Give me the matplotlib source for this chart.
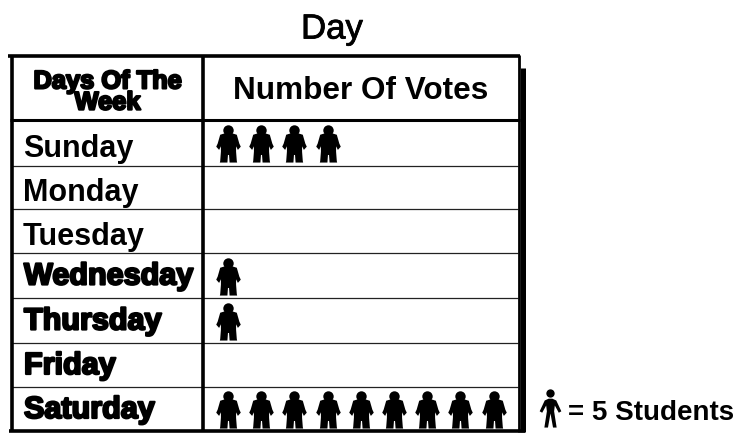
import matplotlib
matplotlib.use("Agg")
import matplotlib.pyplot as plt
import matplotlib.patheffects as pe
from matplotlib.path import Path

# pictograph table, drawn in pixel coords
days = ["Sunday", "Monday", "Tuesday", "Wednesday", "Thursday", "Friday", "Saturday"]
icons = [4, 0, 0, 1, 1, 0, 9]
heavy = [False, False, False, True, True, True, True]
title = "Day"
col1_head = "Days Of The\nWeek"
col2_head = "Number Of Votes"
key_text = "= 5 Students"

row_lines = [121, 167, 210, 254, 299, 344, 388, 432]

plt.rcParams["font.family"] = ["Liberation Sans", "DejaVu Sans"]

fig = plt.figure(figsize=(7.39, 4.35), dpi=100)
ax = fig.add_axes([0, 0, 1, 1])
ax.set_xlim(0, 739)
ax.set_ylim(435, 0)
ax.axis("off")

# stocky figure for the table
body = [(-0.12, 1), (-0.2, 0.86), (-0.14, 0.64), (-0.46, 0.54), (-0.6, 0.05), (-0.68, -0.12),
        (-0.52, -0.3), (-0.42, -0.1), (-0.42, -0.4), (-0.46, -0.92), (-0.48, -1),
        (-0.06, -1), (-0.03, -0.58), (0.03, -0.58), (0.06, -1), (0.48, -1), (0.46, -0.92),
        (0.42, -0.4), (0.42, -0.1), (0.52, -0.3), (0.68, -0.12), (0.6, 0.05),
        (0.46, 0.54), (0.14, 0.64), (0.2, 0.86), (0.12, 1), (-0.12, 1)]
person = Path(body, closed=True)

# slim figure for the key
slim_body = [(-0.1, 0.6), (-0.32, 0.5), (-0.6, -0.1), (-0.46, -0.18), (-0.24, 0.22), (-0.2, -0.1),
             (-0.34, -1), (-0.14, -1), (0, -0.22), (0.14, -1), (0.34, -1), (0.2, -0.1),
             (0.24, 0.22), (0.46, -0.18), (0.6, -0.1), (0.32, 0.5), (0.1, 0.6), (-0.1, 0.6)]
slim = Path(slim_body, closed=True)

# frame
ax.plot([8, 520], [57, 57], color="black", lw=2.6, solid_capstyle="butt")
ax.plot([10, 520], [121, 121], color="black", lw=2.2, solid_capstyle="butt")
for y in row_lines[1:-1]:
    ax.plot([12, 518], [y, y], color="#222222", lw=0.9, solid_capstyle="butt")
ax.plot([9, 525], [432, 432], color="black", lw=2.6, solid_capstyle="butt")
ax.plot([12, 12], [56, 433], color="black", lw=2.6, solid_capstyle="butt")
ax.plot([203, 203], [56, 433], color="black", lw=2.6, solid_capstyle="butt")
ax.plot([519, 519], [56, 433], color="black", lw=2, solid_capstyle="butt")
ax.plot([522.5, 522.5], [69, 433], color="black", lw=3.6, solid_capstyle="butt")

ax.text(332, 30, title, fontsize=25, ha="center", va="center", color="black",
        path_effects=[pe.withStroke(linewidth=0.6, foreground="black")])
ax.text(107.5, 93, col1_head, fontsize=18.3, fontweight="bold", ha="center", va="center",
        linespacing=0.85, color="black",
        path_effects=[pe.withStroke(linewidth=1.6, foreground="black")])
ax.text(361, 91, col2_head, fontsize=22.7, fontweight="bold", ha="center", va="center", color="black")

for i, day in enumerate(days):
    yc = (row_lines[i] + row_lines[i + 1]) / 2
    if heavy[i]:
        ax.text(24, yc + 1, day, fontsize=22, fontweight="bold", ha="left", va="center", color="black",
                path_effects=[pe.withStroke(linewidth=1.6, foreground="black")])
    else:
        ax.text(23, yc + 5, day, fontsize=22, fontweight="bold", ha="left", va="center", color="black")
    for k in range(icons[i]):
        x = 228 + k * 33.2
        ax.plot([x], [yc + 1], marker=person, ms=26, color="black", mew=0, ls="none")
        ax.plot([x], [yc - 13], marker="o", ms=7.5, color="black", mew=0, ls="none")

# key
ax.plot([550], [410], marker=slim, ms=26, color="black", mew=0, ls="none")
ax.plot([550], [394], marker="o", ms=6, color="black", mew=0, ls="none")
ax.text(568, 413, key_text, fontsize=20, fontweight="bold", ha="left", va="center", color="black")

fig.savefig("out.png", dpi=100)
